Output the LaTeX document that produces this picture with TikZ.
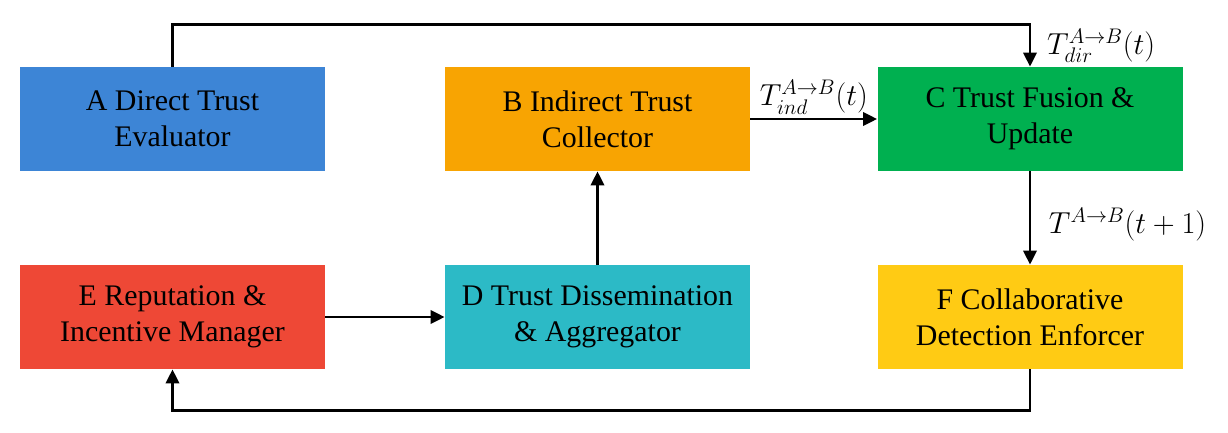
\documentclass[tikz,border=0pt]{standalone}
\usepackage{amsmath}
\usepackage{fontspec}
\setmainfont{Liberation Serif}
\usetikzlibrary{arrows.meta}
\definecolor{bleuA}{HTML}{3D85D6}
\definecolor{orangeB}{HTML}{F8A402}
\definecolor{vertC}{HTML}{00B050}
\definecolor{cyanD}{HTML}{2CBAC6}
\definecolor{rougeE}{HTML}{EE4836}
\definecolor{jauneF}{HTML}{FFCB14}

\begin{document}
\begin{tikzpicture}
  \tikzstyle{lien}=[-{Triangle[length=8pt,width=7.5pt]},line width=1.6pt]
\tikzset{module/.style={fill=#1,minimum width=6.1cm,minimum height=2.08cm,
inner sep=0pt,align=center,font=\fontsize{17}{20.5}\selectfont},
module/.default={white},
etiq/.style={font=\fontsize{18}{20}\selectfont,inner sep=2pt}}
\useasboundingbox (0,0) rectangle (24.56,-8.66);
\node[module=bleuA] (A) at (3.45,-2.38){A Direct Trust\\Evaluator};
\node[module=orangeB] (B) at (11.95,-2.38){B Indirect Trust\\Collector};
\node[module=vertC] (C) at (20.6,-2.38){C Trust Fusion \&\\Update};
\node[module=rougeE] (E) at (3.45,-6.34){E Reputation \&\\Incentive Manager};
\node[module=cyanD] (D) at (11.95,-6.34){D Trust Dissemination\\\& Aggregator};
\node[module=jauneF] (F) at (20.6,-6.34){F Collaborative\\Detection Enforcer};

\draw[lien] (A.north) -- ++(0,0.84) -| node[pos=0.75,right=7pt,etiq]{$T_{dir}^{A\to B}(t)$} (C.north);
\draw[lien] (B) -- node[above,etiq]{$T_{ind}^{A\to B}(t)$} (C);
\draw[lien] (D) -- (B);
\draw[lien] (E) -- (D);
\draw[lien] (C) -- node[right=8pt,yshift=-4pt,etiq]{$T^{A\to B}(t+1)$} (F);
\draw[lien] (F.south) -- ++(0,-0.82) -| (E.south);

  \end{tikzpicture}
\end{document}
